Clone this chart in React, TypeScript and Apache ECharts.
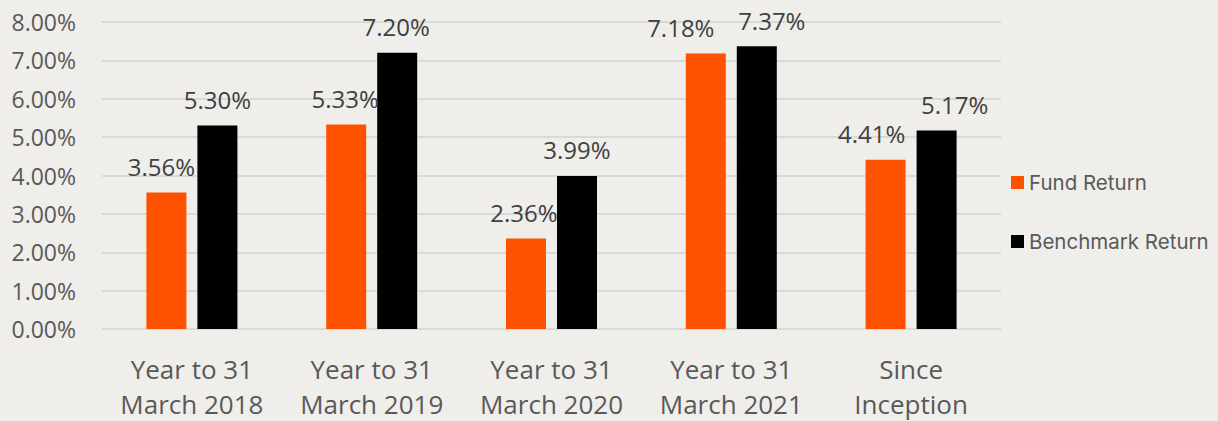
import React, { useEffect, useRef } from "react";
import * as echarts from "echarts";

const categories = [
  "Year to 31\nMarch 2018",
  "Year to 31\nMarch 2019",
  "Year to 31\nMarch 2020",
  "Year to 31\nMarch 2021",
  "Since\nInception",
];
const fundReturn = [3.56, 5.33, 2.36, 7.18, 4.41];
const benchmarkReturn = [5.3, 7.2, 3.99, 7.37, 5.17];
const seriesNames = ["Fund Return", "Benchmark Return"];

// label nudges (pixels) as in the reference's manually placed labels
const fundLabelShift = [-5, -1, -2, -25, -14];
const benchLabelShift = [0, -1, 0, 15, 18];

const AXIS_FONT = "'Open Sans', 'Noto Sans', sans-serif";

export default function App() {
  const ref = useRef<HTMLDivElement>(null);
  useEffect(() => {
    if (!ref.current) return;
    const chart = echarts.init(ref.current, undefined, { renderer: "svg" });
    const labelBase = {
      show: true,
      position: "top",
      distance: 14,
      fontFamily: AXIS_FONT,
      fontSize: 24,
      color: "#404040",
      formatter: (p: any) => Number(p.value).toFixed(2) + "%",
    };
    chart.setOption({
      animation: false,
      backgroundColor: "#EFEEEA",
      grid: { left: 102, right: 217, top: 22, bottom: 88, containLabel: false },
      legend: {
        orient: "vertical",
        left: 1011,
        top: 172,
        padding: 0,
        itemWidth: 13,
        itemHeight: 13,
        itemGap: 38,
        icon: "rect",
        data: seriesNames,
        textStyle: { fontFamily: "Inter, sans-serif", fontSize: 20.5, color: "#595959" },
      },
      xAxis: {
        type: "category",
        data: categories,
        axisLine: { show: false },
        axisTick: { show: false },
        axisLabel: {
          fontFamily: AXIS_FONT,
          fontSize: 26,
          color: "#595959",
          lineHeight: 35,
          margin: 22,
          interval: 0,
        },
      },
      yAxis: {
        type: "value",
        min: 0,
        max: 8,
        interval: 1,
        axisLine: { show: false },
        axisTick: { show: false },
        splitLine: { lineStyle: { color: "#D9D9D6", width: 2 } },
        axisLabel: {
          fontFamily: AXIS_FONT,
          fontSize: 23,
          color: "#595959",
          margin: 26,
          formatter: (v: number) => v.toFixed(2) + "%",
        },
      },
      series: [
        {
          name: seriesNames[0],
          type: "bar",
          barWidth: 40,
          barGap: "27.5%",
          itemStyle: { color: "#FF5200" },
          label: labelBase,
          data: fundReturn.map((v, i) => ({
            value: v,
            label: { offset: [fundLabelShift[i], 0] },
          })),
        },
        {
          name: seriesNames[1],
          type: "bar",
          barWidth: 40,
          barGap: "27.5%",
          itemStyle: { color: "#000000" },
          label: labelBase,
          data: benchmarkReturn.map((v, i) => ({
            value: v,
            label: { offset: [benchLabelShift[i], 0] },
          })),
        },
      ],
    });
    return () => chart.dispose();
  }, []);
  return (
    <div
      ref={ref}
      style={{ position: "absolute", left: 0, top: 0, width: 1218, height: 421 }}
    />
  );
}
